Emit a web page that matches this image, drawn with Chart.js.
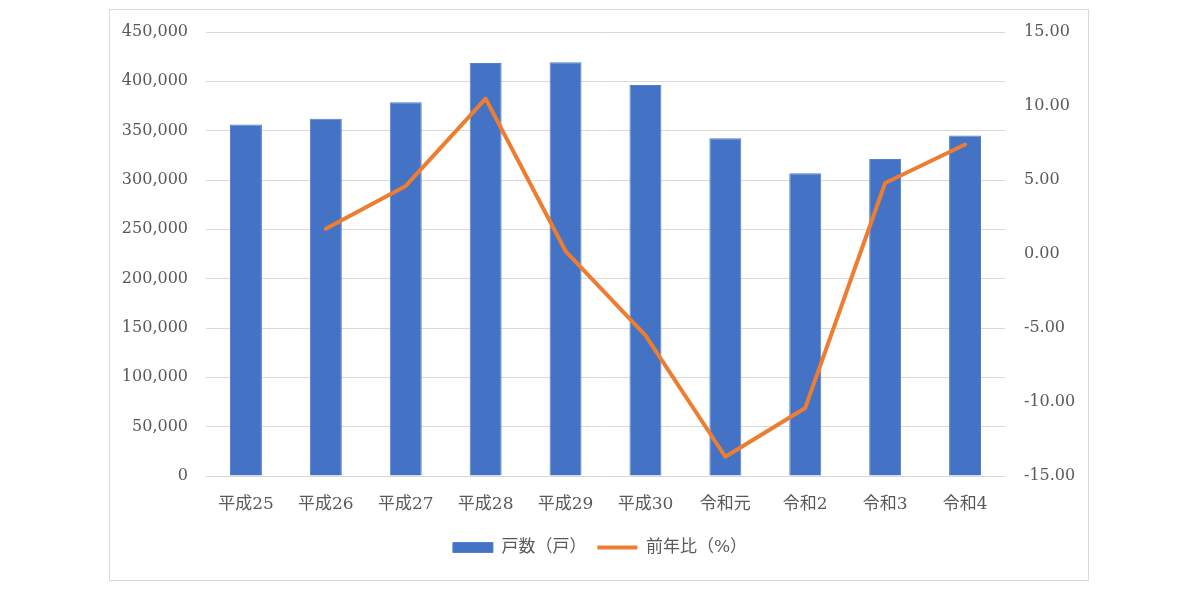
<!DOCTYPE html>
<html>
<head>
<meta charset="utf-8">
<script src="https://cdn.jsdelivr.net/npm/chart.js@4/dist/chart.umd.min.js"></script>
<style>
  html, body { margin: 0; padding: 0; background: #fff; }
  #wrap { width: 1200px; height: 592px; }
</style>
</head>
<body>
<div id="wrap"><canvas id="chart" width="1200" height="592"></canvas></div>
<script>
// 年度
const categories = ['平成25', '平成26', '平成27', '平成28', '平成29', '平成30', '令和元', '令和2', '令和3', '令和4'];
// 戸数（戸）
const units = [356263, 362191, 378718, 418543, 419397, 396404, 342289, 306753, 321376, 345080];
// 前年比（%）
const yoy = [null, 1.7, 4.6, 10.5, 0.2, -5.5, -13.7, -10.4, 4.8, 7.4];

const leftTicks = [0, 50000, 100000, 150000, 200000, 250000, 300000, 350000, 400000, 450000];
const rightTicks = [-15, -10, -5, 0, 5, 10, 15];

const textColor = '#595959';
const fontFamily = "'DejaVu Serif', 'Noto Sans CJK JP', serif";

// outer frame like the Excel chart area
const frame = {
    id: 'frame',
    beforeDraw(chart) {
        const c = chart.ctx;
        c.save();
        c.fillStyle = '#fff';
        c.fillRect(0, 0, chart.width, chart.height);
        c.strokeStyle = '#D9D9D9';
        c.lineWidth = 1;
        c.strokeRect(109.5, 9.5, 979, 571);
        c.restore();
    }
};

const ctx = document.getElementById('chart').getContext('2d');
new Chart(ctx, {
    data: {
        labels: categories,
        datasets: [{
            type: 'bar',
            label: '戸数（戸）',
            data: units,
            yAxisID: 'y',
            backgroundColor: '#4472C4',
            borderColor: '#4F7FD6',
            borderWidth: 1,
            barPercentage: 0.4,
            categoryPercentage: 1.0,
            pointStyle: 'rect',
            order: 2
        }, {
            type: 'line',
            label: '前年比（%）',
            data: yoy,
            yAxisID: 'y1',
            borderColor: '#ED7D31',
            backgroundColor: '#ED7D31',
            borderWidth: 4,
            borderCapStyle: 'round',
            borderJoinStyle: 'round',
            tension: 0,
            pointRadius: 0,
            pointStyle: 'line',
            order: 1
        }]
    },
    options: {
        responsive: false,
        animation: false,
        layout: { padding: { top: 32, left: 0, right: 0, bottom: 26 } },
        scales: {
            x: {
                grid: { display: false },
                border: { display: false },
                ticks: { color: textColor, font: { family: fontFamily, size: 17 }, padding: 10, maxRotation: 0 },
                afterFit: (s) => { s.height = 52; }
            },
            y: {
                position: 'left',
                min: 0,
                max: 450000,
                afterBuildTicks: (s) => { s.ticks = leftTicks.map(v => ({ value: v })); },
                grid: { color: '#D9D9D9', lineWidth: 1, drawTicks: false },
                border: { display: false },
                ticks: {
                    color: textColor,
                    font: { family: fontFamily, size: 16 },
                    padding: 18,
                    callback: (v) => v.toLocaleString('en-US')
                },
                afterFit: (s) => { s.width = 206; }
            },
            y1: {
                position: 'right',
                min: -15,
                max: 15,
                afterBuildTicks: (s) => { s.ticks = rightTicks.map(v => ({ value: v })); },
                grid: { display: false, drawTicks: false },
                border: { display: false },
                ticks: {
                    color: textColor,
                    font: { family: fontFamily, size: 16 },
                    padding: 19,
                    callback: (v) => v.toFixed(2)
                },
                afterFit: (s) => { s.width = 195; }
            }
        },
        plugins: {
            legend: {
                display: true,
                position: 'bottom',
                labels: {
                    usePointStyle: true,
                    pointStyleWidth: 40,
                    boxHeight: 10,
                    padding: 11,
                    color: textColor,
                    font: { family: fontFamily, size: 17 },
                    sort: (a, b) => a.datasetIndex - b.datasetIndex
                }
            },
            tooltip: { enabled: false }
        }
    },
    plugins: [frame]
});
</script>
</body>
</html>
